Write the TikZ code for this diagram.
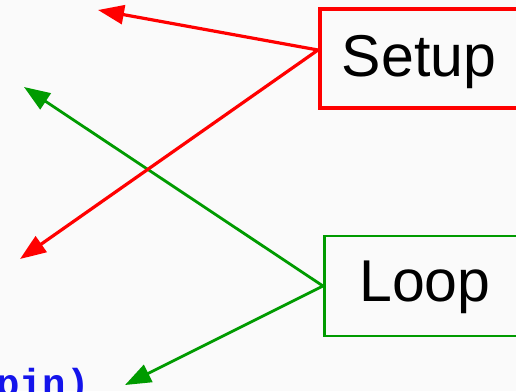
\documentclass[tikz,border=0pt]{standalone}
\usepackage{fontspec}
\setmainfont{Liberation Sans}
\newfontfamily\codefont{Liberation Mono}
\usetikzlibrary{arrows.meta}
\definecolor{loopgreen}{RGB}{0,155,0}
\definecolor{paper}{RGB}{250,250,250}
\definecolor{codeblue}{RGB}{20,20,235}
\tikzset{
  tip/.style={-{Triangle[length=26pt,width=19pt]}},
  redarrow/.style={tip, draw=red, line width=3.2pt},
  greenarrow/.style={tip, draw=loopgreen, line width=2.8pt},
  stagebox/.style={rectangle, anchor=west, align=left, text width=190pt,
    font=\fontsize{59}{60}\selectfont, inner ysep=0pt},
}
\begin{document}
\begin{tikzpicture}[x=1pt,y=-1pt]
  \fill[paper] (0,0) rectangle (516,391);
  \clip (0,0) rectangle (516,391);

  % the two stage boxes, running off to the right
  \node[stagebox, draw=red, line width=3.8pt, minimum height=99pt,
        inner xsep=22pt, text height=45pt, text depth=10pt]
        (setup) at (318,58.5) {Setup};
  \node[stagebox, draw=loopgreen, line width=2.6pt, minimum height=100pt,
        inner xsep=35pt, text height=40pt, text depth=10pt]
        (loop) at (323,286) {Loop};

  % code fragment at the lower edge
  \node[anchor=base west, inner sep=0pt, text=codeblue,
        font=\codefont\bfseries\fontsize{39}{40}\selectfont]
        (pin) at (-4,396) {pin)};

  % arrow end points
  \coordinate (sfrom) at (318,50);
  \coordinate (s1) at (98,10);
  \coordinate (s2) at (20,259);
  \coordinate (l1) at (24,87);
  \coordinate (l2) at (125,385);

  \draw[greenarrow] (loop.west) -- (l1);
  \draw[greenarrow] (loop.west) -- (l2);
  \draw[redarrow] (sfrom) -- (s1);
  \draw[redarrow] (sfrom) -- (s2);
\end{tikzpicture}
\end{document}
